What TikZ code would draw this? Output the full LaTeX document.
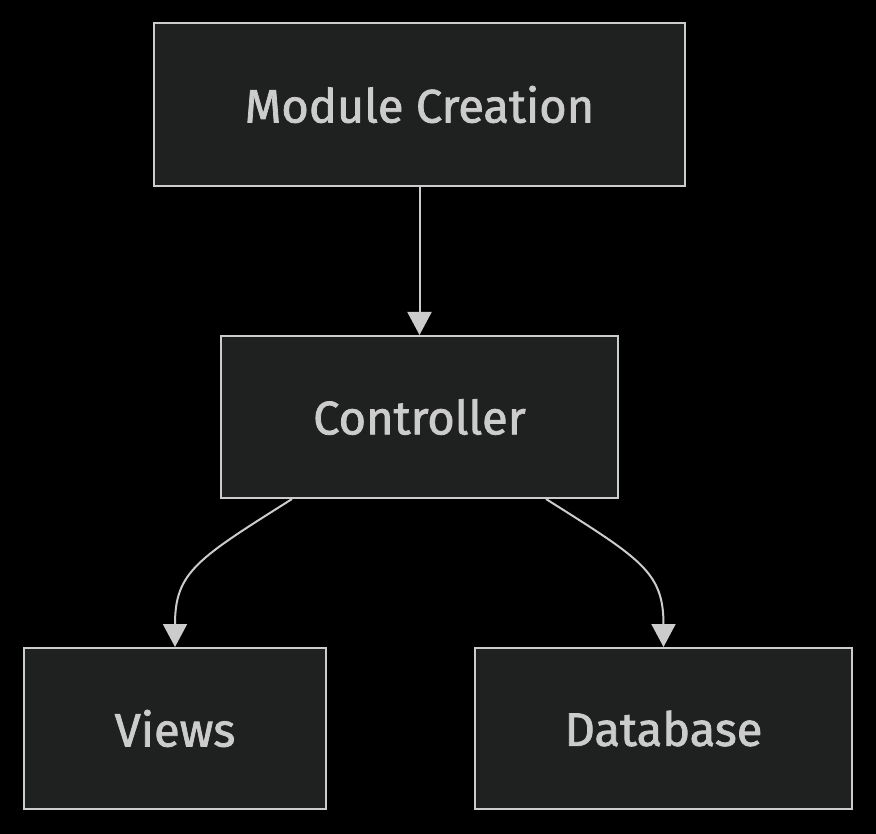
\documentclass[tikz,border=0pt]{standalone}
\usepackage{fontspec}
\newfontfamily\boxfont{Fira Sans}[FakeBold=1.6]
\usetikzlibrary{arrows.meta}
\definecolor{boxfill}{HTML}{1F2020}
\definecolor{boxline}{HTML}{CCCCCC}
\tikzset{
    flowbox/.style={draw=boxline, line width=2pt, rectangle, fill=boxfill,
        text=boxline, font=\boxfont\fontsize{47}{50}\selectfont, inner sep=0pt},
    flowarrow/.style={draw=boxline, line width=2pt,
        -{Triangle[length=23pt, width=24pt]}}
}
\begin{document}
\begin{tikzpicture}[x=1pt, y=-1pt]
            \fill[black] (0,0) rectangle (876,834);
            \useasboundingbox (0,0) rectangle (876,834);

            \node[flowbox, minimum width=531pt, minimum height=163pt] (module) at (419.5,104.5) {Module Creation};
            \node[flowbox, minimum width=397pt, minimum height=162pt] (ctrl) at (419.5,417) {Controller};
            \node[flowbox, minimum width=302pt, minimum height=161pt] (views) at (175,728.5) {Views};
            \node[flowbox, minimum width=377pt, minimum height=161pt] (db) at (663.5,728.5) {Database};

            \draw[flowarrow] (module) -- (ctrl);
            \draw[flowarrow] ([xshift=-127.5pt]ctrl.south) .. controls +(-95,60) and +(0,-75) .. (views.north);
            \draw[flowarrow] ([xshift=126.5pt]ctrl.south) .. controls +(95,60) and +(0,-75) .. (db.north);
        \end{tikzpicture}
\end{document}
